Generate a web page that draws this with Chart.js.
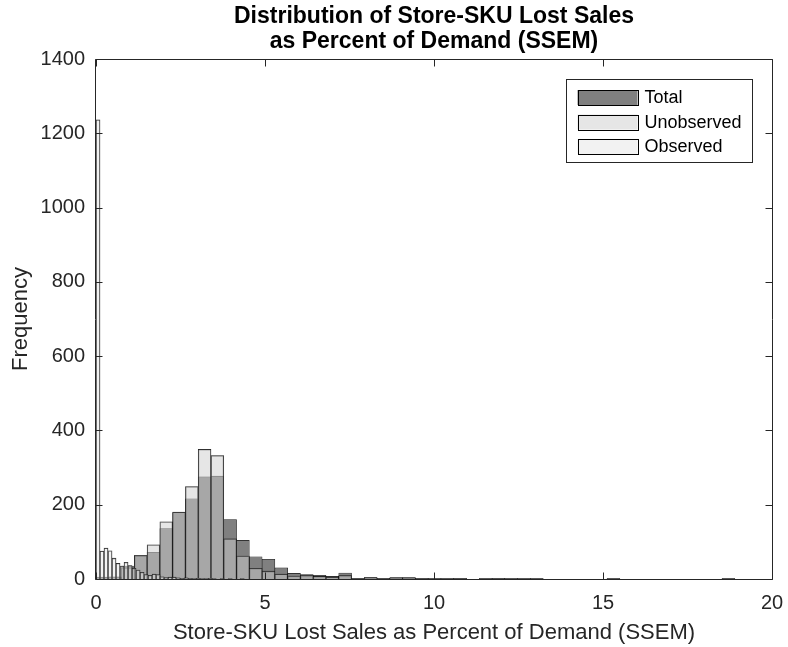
<!DOCTYPE html>
<html>
<head>
<meta charset="utf-8">
<script src="https://cdn.jsdelivr.net/npm/chart.js@4/dist/chart.umd.min.js"></script>
<style>
  html, body { margin: 0; padding: 0; background: #fff; }
  #wrap { width: 788px; height: 647px; }
</style>
</head>
<body>
<div id="wrap"><canvas id="c"></canvas></div>
<script>
// Histogram counts of lost sales (% of demand) per store-SKU
const chartTitle = ['Distribution of Store-SKU Lost Sales', 'as Percent of Demand (SSEM)'];
const xAxisTitle = 'Store-SKU Lost Sales as Percent of Demand (SSEM)';
const yAxisTitle = 'Frequency';
const seriesLabels = ['Total', 'Unobserved', 'Observed'];

// Total and Unobserved share 50 bins of width 0.378
const totalBinWidth = 0.378;
const totalCounts = [
  5, 6, 35, 63, 72, 136, 179, 216, 275, 277,
  160, 104, 60, 53, 30, 15, 12, 10, 7, 16,
  2, 4, 2, 4, 4, 2, 1, 1, 2, 0,
  1, 2, 1, 1, 1, 0, 0, 0, 0, 0,
  1, 0, 0, 0, 0, 0, 0, 0, 0, 1
];
const unobservedCounts = [
  3, 4, 30, 63, 92, 154, 180, 249, 349, 332,
  108, 62, 29, 21, 13, 8, 9, 7, 5, 9,
  1, 4, 1, 3, 3, 1, 1, 1, 1, 0,
  1, 1, 1, 1, 1, 0, 0, 0, 0, 0,
  1, 0, 0, 0, 0, 0, 0, 0, 0, 1
];

// Observed uses 50 narrower bins of width 0.1185
const observedBinWidth = 0.1185;
const observedCounts = [
  1236, 75, 83, 76, 56, 42, 35, 45, 36, 29,
  24, 18, 12, 10, 13, 12, 6, 4, 5, 5,
  3, 2, 3, 2, 1, 2, 1, 1, 2, 1,
  0, 1, 0, 1, 0, 0, 1, 0, 0, 0,
  0, 0, 0, 0, 0, 0, 0, 0, 0, 0
];

const xMin = 0, xMax = 20, xStep = 5;
const yMin = 0, yMax = 1400, yStep = 200;

const seriesFill = ['rgba(128,128,128,1)', 'rgba(205,205,205,0.5)', 'rgba(230,230,230,0.5)'];
const edgeColor = 'rgba(0,0,0,0.9)';
const axisColor = '#262626';
const FONT = "'Liberation Sans', Arial, Helvetica, sans-serif";

// bin centers on the linear x axis
function toBins(counts, width) {
  return counts.map((c, i) => ({ x: (i + 0.5) * width, y: c }));
}

// bar width in pixels for one bin, taken from the x scale
function binPixels(chart, width) {
  const s = chart.scales && chart.scales.x;
  if (!s || !isFinite(s.getPixelForValue(width))) return 10;
  return Math.abs(s.getPixelForValue(width) - s.getPixelForValue(0));
}

function histDataset(label, counts, width, fill, order) {
  return {
    label,
    data: toBins(counts, width),
    backgroundColor: fill,
    borderColor: edgeColor,
    borderWidth: 0.6,
    borderSkipped: 'start',
    grouped: false,
    order,
    barThickness: ctx => binPixels(ctx.chart, width)
  };
}

// axes box with inward tick marks on all four sides
const axesBox = {
  id: 'axesBox',
  afterDatasetsDraw(chart) {
    const { ctx, chartArea: a, scales: { x, y } } = chart;
    const L = Math.round(a.left) - 0.5, R = Math.round(a.right) + 0.5;
    const T = Math.round(a.top) + 0.5, B = Math.round(a.bottom) + 0.5;
    const tl = 7;
    ctx.save();
    ctx.strokeStyle = axisColor;
    ctx.lineWidth = 1;
    ctx.beginPath();
    ctx.rect(L, T, R - L, B - T);
    x.ticks.forEach(t => {
      const px = Math.round(x.getPixelForValue(t.value)) + 0.5;
      ctx.moveTo(px, B); ctx.lineTo(px, B - tl);
      ctx.moveTo(px, T); ctx.lineTo(px, T + tl);
    });
    y.ticks.forEach(t => {
      const py = Math.round(y.getPixelForValue(t.value)) + 0.5;
      ctx.moveTo(L, py); ctx.lineTo(L + tl, py);
      ctx.moveTo(R, py); ctx.lineTo(R - tl, py);
    });
    ctx.stroke();
    ctx.restore();
  }
};

// boxed legend in the upper right of the axes
const boxedLegend = {
  id: 'boxedLegend',
  afterDraw(chart) {
    const { ctx, chartArea: a } = chart;
    const w = 186, h = 83;
    const bx = Math.round(a.right) - 20 - w + 0.5;
    const by = Math.round(a.top) + 20 + 0.5;
    ctx.save();
    ctx.fillStyle = '#fff';
    ctx.fillRect(bx, by, w, h);
    ctx.strokeStyle = axisColor;
    ctx.lineWidth = 1;
    ctx.strokeRect(bx, by, w, h);
    ctx.font = '18px ' + FONT;
    ctx.textBaseline = 'middle';
    ctx.textAlign = 'left';
    chart.data.datasets.forEach((ds, i) => {
      const cy = by + 18 + i * 24.5;
      const sx = bx + 11, sw = 60, sh = 15;
      ctx.fillStyle = '#fff';
      ctx.fillRect(sx, cy - sh / 2, sw, sh);
      ctx.fillStyle = ds.backgroundColor;
      ctx.fillRect(sx, cy - sh / 2, sw, sh);
      ctx.strokeStyle = '#000';
      ctx.strokeRect(Math.round(sx) + 0.5, Math.round(cy - sh / 2) + 0.5, sw, sh);
      ctx.fillStyle = '#000';
      ctx.fillText(ds.label, sx + sw + 7, cy + 1);
    });
    ctx.restore();
  }
};

new Chart(document.getElementById('c'), {
  type: 'bar',
  data: {
    datasets: [
      histDataset(seriesLabels[0], totalCounts, totalBinWidth, seriesFill[0], 3),
      histDataset(seriesLabels[1], unobservedCounts, totalBinWidth, seriesFill[1], 2),
      histDataset(seriesLabels[2], observedCounts, observedBinWidth, seriesFill[2], 1)
    ]
  },
  options: {
    responsive: true,
    maintainAspectRatio: false,
    devicePixelRatio: 1,
    animation: false,
    layout: { padding: { left: 0, right: 16, top: 0, bottom: 0 } },
    plugins: {
      legend: { display: false },
      tooltip: { enabled: false },
      title: {
        display: true,
        fullSize: false,
        text: chartTitle,
        color: '#000',
        font: { family: FONT, size: 23, weight: 'bold', lineHeight: 25 / 23 },
        padding: { top: 4, bottom: 5 }
      }
    },
    scales: {
      x: {
        type: 'linear',
        min: xMin, max: xMax,
        offset: false,
        grid: { display: false, drawTicks: false },
        border: { display: false },
        ticks: { stepSize: xStep, color: axisColor, padding: 12, font: { family: FONT, size: 20 }, maxRotation: 0, callback: v => String(v) },
        title: { display: true, text: xAxisTitle, color: axisColor, font: { family: FONT, size: 22 }, padding: { top: 0, bottom: 1 } },
        afterFit(scale) {
          scale.height = 68;
          scale.paddingLeft = 0;
          scale.paddingRight = 0;
        }
      },
      y: {
        min: yMin, max: yMax,
        grid: { display: false, drawTicks: false },
        border: { display: false },
        ticks: { stepSize: yStep, color: axisColor, padding: 11, font: { family: FONT, size: 20 }, callback: v => String(v) },
        title: { display: true, text: yAxisTitle, color: axisColor, font: { family: FONT, size: 22 }, padding: { top: 8, bottom: 0 } },
        afterFit(scale) { scale.width = 96; }
      }
    }
  },
  plugins: [axesBox, boxedLegend]
});
</script>
</body>
</html>
